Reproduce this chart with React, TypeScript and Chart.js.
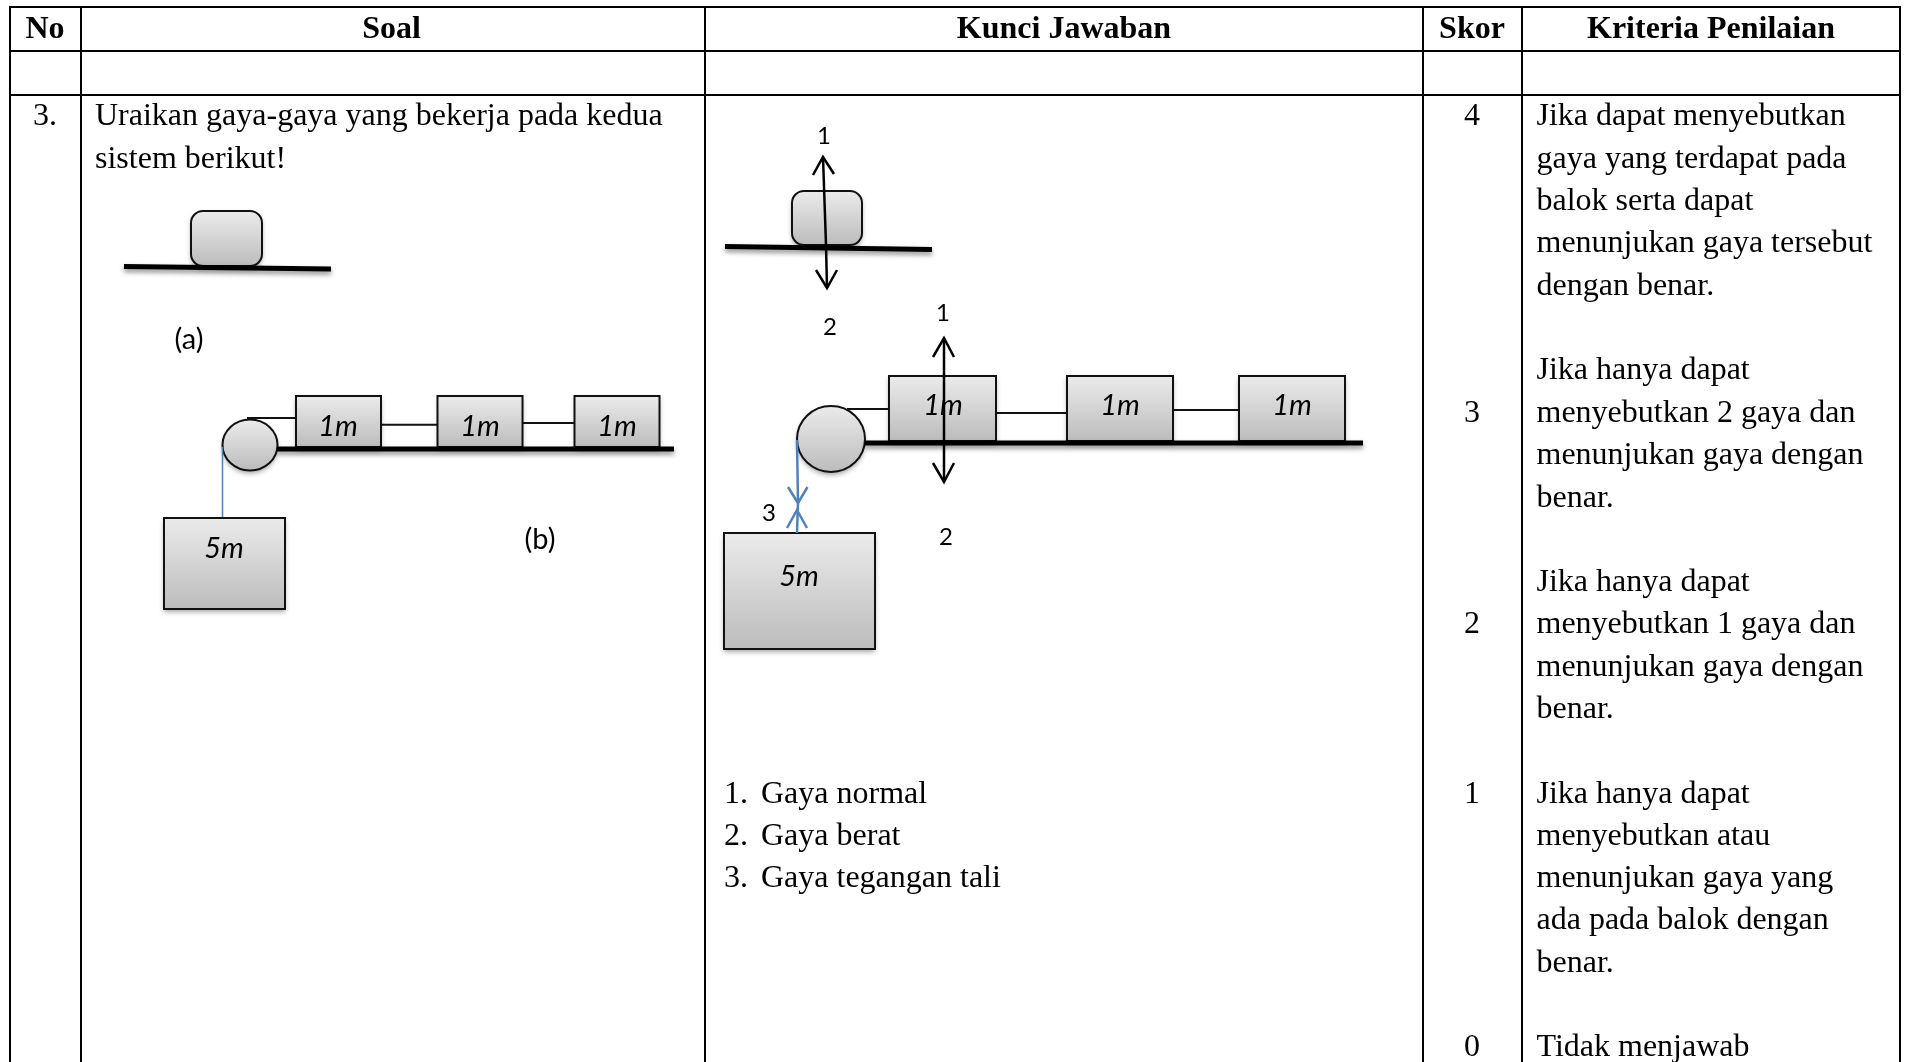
import React, { useEffect, useRef } from "react";
import { Chart, registerables } from "chart.js";

Chart.register(...registerables);

const W = 1906;
const H = 1062;

type P = [number, number];

const columnRules = [10, 81, 705, 1423, 1522, 1900];
const rowRules = [7, 51, 95];
const gridBottom = 1062;

const headers: [string, number][] = [
  ["No", 45],
  ["Soal", 391.5],
  ["Kunci Jawaban", 1064],
  ["Skor", 1472],
  ["Kriteria Penilaian", 1711],
];

const bodyLines: [string, number, number, string][] = [
  ["3.", 45, 125, "center"],
  ["Uraikan gaya-gaya yang bekerja pada kedua", 95, 125, "left"],
  ["sistem berikut!", 95, 168, "left"],
  ["1.", 724, 803, "left"],
  ["Gaya normal", 761, 803, "left"],
  ["2.", 724, 845, "left"],
  ["Gaya berat", 761, 845, "left"],
  ["3.", 724, 887, "left"],
  ["Gaya tegangan tali", 761, 887, "left"],
];

const scoreValues = ["4", "3", "2", "1", "0"];
const scoreBaselines = [125, 422, 633, 803, 1056];
const scoreColumn = 1472;

const criteriaColumn = 1536.5;
const criteriaLines: [string, number][] = [
  ["Jika dapat menyebutkan", 125],
  ["gaya yang terdapat pada", 168],
  ["balok serta dapat", 210],
  ["menunjukan gaya tersebut", 252],
  ["dengan benar.", 295],
  ["Jika hanya dapat", 379],
  ["menyebutkan 2 gaya dan", 422],
  ["menunjukan gaya dengan", 464],
  ["benar.", 507],
  ["Jika hanya dapat", 591],
  ["menyebutkan 1 gaya dan", 633],
  ["menunjukan gaya dengan", 676],
  ["benar.", 718],
  ["Jika hanya dapat", 803],
  ["menyebutkan atau", 845],
  ["menunjukan gaya yang", 887],
  ["ada pada balok dengan", 929],
  ["benar.", 972],
  ["Tidak menjawab", 1056],
];

const captionLabels: [string, number, number][] = [
  ["(a)", 189, 340],
  ["(b)", 540, 540],
];

const forceLabels: [string, number, number][] = [
  ["1", 824, 136],
  ["2", 830, 327],
  ["1", 943, 313],
  ["2", 946, 537],
  ["3", 769, 513],
];

const massLabels: [string, number, number][] = [
  ["1m", 338, 427],
  ["1m", 480, 427],
  ["1m", 617, 427],
  ["5m", 224, 549],
  ["1m", 943, 406],
  ["1m", 1120, 406],
  ["1m", 1292, 406],
  ["5m", 799, 577],
];

// x0, y0, x1, y1, corner radius
const blocks: [number, number, number, number, number][] = [
  [191, 211, 262, 266, 12],
  [296, 396, 381, 447, 0],
  [437.5, 396, 522.5, 447, 0],
  [574.5, 396, 659.5, 447, 0],
  [164, 518, 285, 609, 0],
  [792, 191, 862, 245, 12],
  [889, 376, 996, 441, 0],
  [1067, 376, 1173, 441, 0],
  [1239, 376, 1345, 441, 0],
  [724, 533, 875, 649, 0],
];

// cx, cy, rx, ry
const pulleys: [number, number, number, number][] = [
  [250, 445, 27.5, 25.5],
  [831, 439, 34, 33],
];

const groundLines: P[][] = [
  [[124, 266.5], [331, 269]],
  [[277, 449], [674, 449]],
  [[725, 246.5], [932, 249.5]],
  [[865, 443], [1363, 443]],
];

const ropes: P[][] = [
  [[247, 418], [296, 418]],
  [[381, 424.7], [437.5, 424.7]],
  [[522.5, 423], [574.5, 423]],
  [[847, 409], [889, 409]],
  [[996, 413], [1067, 413]],
  [[1173, 410], [1239, 410]],
];

const thinBlueRopes: P[][] = [[[222.5, 447], [222.5, 517]]];

const blueRopes: P[][] = [
  [[797, 440], [798, 503], [797, 533]],
  [[788, 487], [798, 503], [807.5, 487]],
  [[787, 528], [797, 510], [807, 528]],
];

const forceArrows: P[][] = [
  [[826, 245], [823, 157]],
  [[813, 175], [823, 157], [834, 174]],
  [[826, 245], [827, 288]],
  [[816, 270], [827, 288], [837, 270]],
  [[944, 338], [944, 482]],
  [[933, 357], [944, 338], [954, 357]],
  [[933, 463], [944, 482], [954, 463]],
];

const segment = (pts: P[], color: string, width: number, shadow = false) => ({
  data: pts.map(([x, y]) => ({ x, y })),
  showLine: true,
  borderColor: color,
  backgroundColor: color,
  borderWidth: width,
  pointRadius: 0,
  tension: 0,
  fill: false,
  shadow,
});

const gridSegments: P[][] = [
  ...columnRules.map((x): P[] => [[x, rowRules[0]], [x, gridBottom]]),
  ...rowRules.map((y): P[] => [[columnRules[0] - 1, y], [columnRules[5] + 1, y]]),
];

const SERIF = '"Liberation Serif", "Times New Roman", serif';
const SANS = 'Lato, "Open Sans", sans-serif';

const sheetPlugin = {
  id: "sheet",
  beforeDraw(chart: any) {
    const c = chart.ctx;
    c.save();
    c.fillStyle = "#ffffff";
    c.fillRect(0, 0, W, H);
    c.restore();
  },
  beforeDatasetsDraw(chart: any) {
    const c = chart.ctx;
    const sx = chart.scales.x;
    const sy = chart.scales.y;
    const paint = (top: number, bottom: number, trace: () => void) => {
      const g = c.createLinearGradient(0, top, 0, bottom);
      g.addColorStop(0, "#ebebeb");
      g.addColorStop(1, "#bcbcbc");
      c.save();
      c.shadowColor = "rgba(0,0,0,0.35)";
      c.shadowBlur = 5;
      c.shadowOffsetY = 3;
      c.fillStyle = g;
      trace();
      c.fill();
      c.restore();
      c.save();
      c.strokeStyle = "#111111";
      c.lineWidth = 2;
      trace();
      c.stroke();
      c.restore();
    };
    blocks.forEach(([x0, y0, x1, y1, r]) => {
      const a = sx.getPixelForValue(x0);
      const b = sy.getPixelForValue(y0);
      const d = sx.getPixelForValue(x1);
      const e = sy.getPixelForValue(y1);
      paint(b, e, () => {
        c.beginPath();
        c.roundRect(a, b, d - a, e - b, r);
      });
    });
    pulleys.forEach(([cx, cy, rx, ry]) => {
      const a = sx.getPixelForValue(cx);
      const b = sy.getPixelForValue(cy);
      paint(b - ry, b + ry, () => {
        c.beginPath();
        c.ellipse(a, b, rx, ry, 0, 0, Math.PI * 2);
      });
    });
  },
  beforeDatasetDraw(chart: any, args: any) {
    const ds = chart.data.datasets[args.index] as any;
    if (ds.shadow) {
      const c = chart.ctx;
      c.save();
      c.shadowColor = "rgba(0,0,0,0.45)";
      c.shadowBlur = 5;
      c.shadowOffsetY = 3;
    }
  },
  afterDatasetDraw(chart: any, args: any) {
    const ds = chart.data.datasets[args.index] as any;
    if (ds.shadow) chart.ctx.restore();
  },
  afterDatasetsDraw(chart: any) {
    const c = chart.ctx;
    const sx = chart.scales.x;
    const sy = chart.scales.y;
    const put = (t: string, x: number, y: number, font: string, align: string, base: string) => {
      c.font = font;
      c.textAlign = align;
      c.textBaseline = base;
      c.fillStyle = "#000000";
      c.fillText(t, sx.getPixelForValue(x), sy.getPixelForValue(y));
    };
    c.save();
    const body = `32px ${SERIF}`;
    headers.forEach(([t, x]) => put(t, x, 38, `bold 32px ${SERIF}`, "center", "alphabetic"));
    bodyLines.forEach(([t, x, y, a]) => put(t, x, y, body, a, "alphabetic"));
    scoreValues.forEach((t, i) => put(t, scoreColumn, scoreBaselines[i], body, "center", "alphabetic"));
    criteriaLines.forEach(([t, y]) => put(t, criteriaColumn, y, body, "left", "alphabetic"));
    captionLabels.forEach(([t, x, y]) => put(t, x, y, `29px ${SANS}`, "center", "middle"));
    forceLabels.forEach(([t, x, y]) => put(t, x, y, `24px ${SANS}`, "center", "middle"));
    massLabels.forEach(([t, x, y]) => put(t, x, y, `italic 29px ${SANS}`, "center", "middle"));
    c.restore();
  },
};

export default function App() {
  const ref = useRef<HTMLCanvasElement>(null);
  useEffect(() => {
    const chart = new Chart(ref.current as HTMLCanvasElement, {
      type: "scatter",
      data: {
        datasets: [
          ...gridSegments.map((s) => segment(s, "#000000", 2)),
          ...groundLines.map((s) => segment(s, "#000000", 5, true)),
          ...ropes.map((s) => segment(s, "#111111", 2)),
          ...thinBlueRopes.map((s) => segment(s, "#4f81bd", 1.5)),
          ...blueRopes.map((s) => segment(s, "#4f81bd", 2.5)),
          ...forceArrows.map((s) => segment(s, "#000000", 2.5)),
        ] as any,
      },
      options: {
        animation: false,
        responsive: false,
        layout: { padding: 0 },
        plugins: { legend: { display: false }, tooltip: { enabled: false } },
        scales: {
          x: { type: "linear", min: 0, max: W, display: false },
          y: { type: "linear", min: 0, max: H, reverse: true, display: false },
        },
      },
      plugins: [sheetPlugin as any],
    });
    return () => chart.destroy();
  }, []);
  return (
    <canvas
      ref={ref}
      width={W}
      height={H}
      style={{ position: "absolute", left: 0, top: 0, display: "block", width: W, height: H }}
    />
  );
}
